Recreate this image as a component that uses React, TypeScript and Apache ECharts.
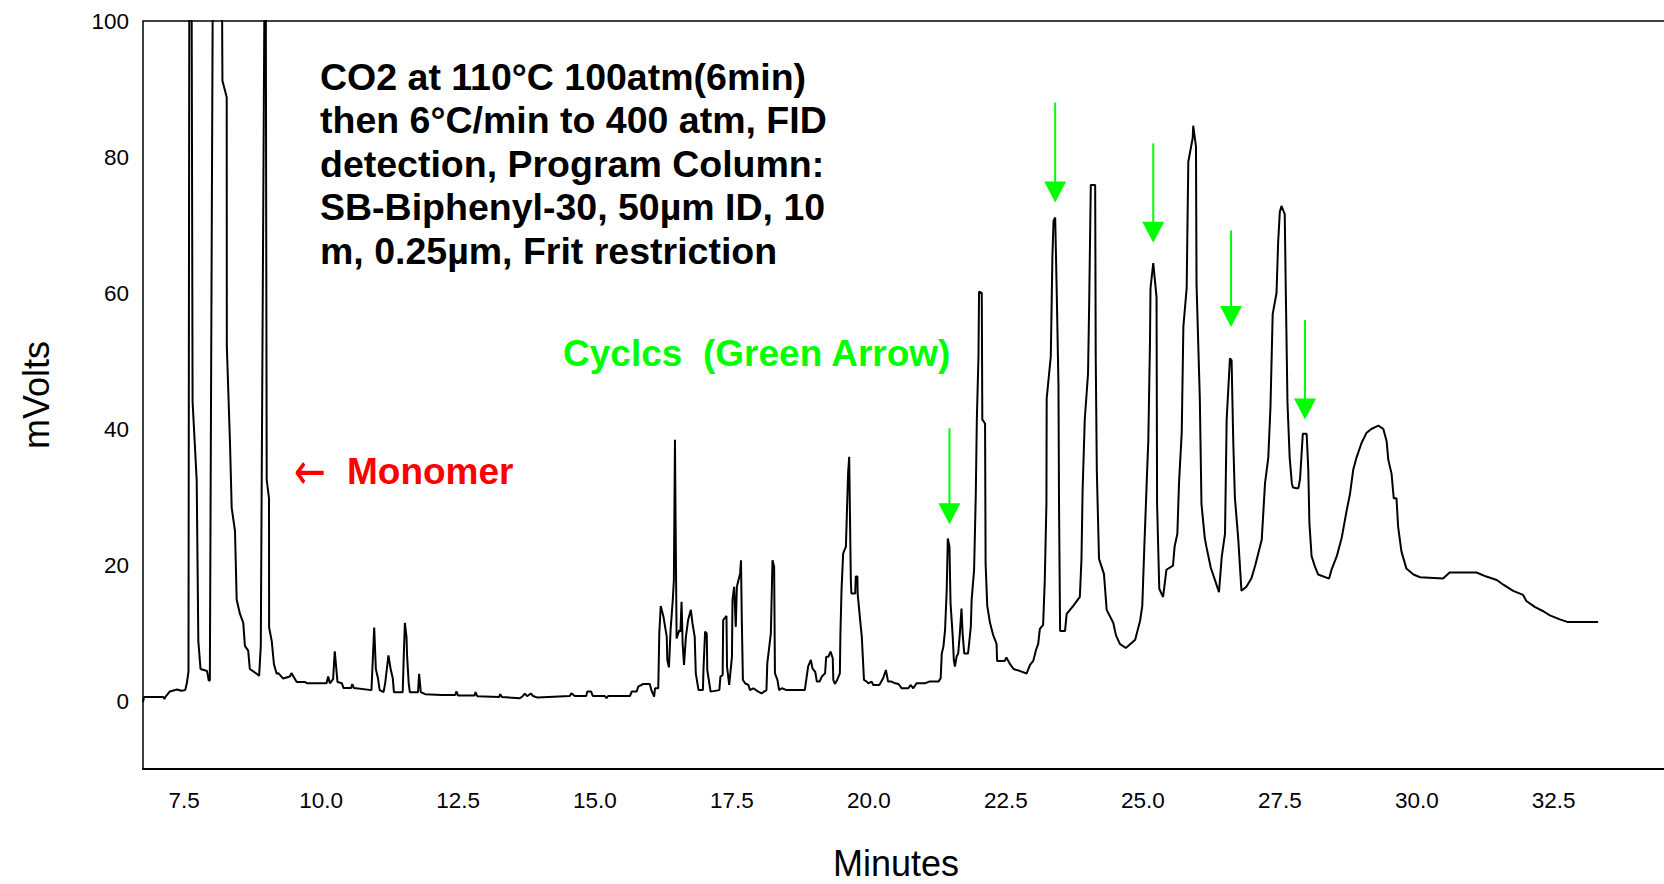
import React, { useEffect, useRef } from "react";
import * as echarts from "echarts";

// ---- Data ----
const retentionTime: number[] = [
  6.75, 6.77, 7.12, 7.14, 7.16, 7.24, 7.37, 7.45, 7.52, 7.55, 7.58, 7.61, 7.655, 7.73, 7.76, 7.8, 7.92, 7.95, 7.97,
  8.1, 8.2, 8.278, 8.28, 8.338, 8.369, 8.429, 8.46, 8.52, 8.58, 8.61, 8.67, 8.7, 8.825, 8.87, 8.9, 8.985, 9.008,
  9.05, 9.052, 9.1, 9.14, 9.19, 9.22, 9.31, 9.43, 9.46, 9.555, 9.71, 9.74, 10.1, 10.13, 10.16, 10.22, 10.25, 10.3,
  10.38, 10.41, 10.55, 10.57, 10.6, 10.92, 10.97, 11.0, 11.04, 11.07, 11.14, 11.17, 11.23, 11.27, 11.31, 11.33,
  11.49, 11.51, 11.53, 11.56, 11.57, 11.6, 11.62, 11.77, 11.79, 11.82, 11.9, 12.2, 12.45, 12.47, 12.5, 12.8, 12.82,
  12.85, 13.25, 13.27, 13.3, 13.63, 13.68, 13.72, 13.76, 13.83, 13.87, 13.95, 14.54, 14.57, 14.63, 14.84, 14.86,
  14.93, 14.96, 15.18, 15.21, 15.24, 15.64, 15.67, 15.76, 15.79, 15.88, 16.0, 16.03, 16.08, 16.095, 16.155, 16.174,
  16.2, 16.25, 16.28, 16.31, 16.32, 16.35, 16.38, 16.42, 16.44, 16.46, 16.47, 16.49, 16.54, 16.56, 16.58, 16.6,
  16.625, 16.66, 16.7, 16.75, 16.78, 16.82, 16.84, 16.89, 16.97, 16.98, 17.01, 17.04, 17.05, 17.11, 17.27, 17.29,
  17.33, 17.34, 17.4, 17.41, 17.45, 17.5, 17.51, 17.54, 17.57, 17.59, 17.65, 17.665, 17.68, 17.7, 17.74, 17.8,
  17.83, 17.89, 17.98, 18.04, 18.13, 18.145, 18.21, 18.24, 18.27, 18.285, 18.33, 18.36, 18.41, 18.5, 18.83, 18.89,
  18.94, 18.97, 19.02, 19.05, 19.1, 19.14, 19.2, 19.22, 19.26, 19.3, 19.34, 19.35, 19.38, 19.42, 19.47, 19.48,
  19.5, 19.53, 19.58, 19.62, 19.64, 19.67, 19.68, 19.75, 19.76, 19.79, 19.795, 19.84, 19.87, 19.91, 19.96, 19.99,
  20.05, 20.08, 20.19, 20.26, 20.31, 20.35, 20.41, 20.48, 20.54, 20.6, 20.72, 20.76, 20.81, 20.87, 20.93, 21.02,
  21.1, 21.27, 21.31, 21.33, 21.36, 21.39, 21.42, 21.44, 21.47, 21.49, 21.53, 21.55, 21.57, 21.6, 21.63, 21.66,
  21.69, 21.71, 21.74, 21.81, 21.86, 21.875, 21.92, 21.95, 21.97, 22.0, 22.01, 22.06, 22.07, 22.12, 22.13, 22.16,
  22.21, 22.27, 22.33, 22.34, 22.48, 22.51, 22.57, 22.64, 22.76, 22.88, 22.94, 23.0, 23.05, 23.09, 23.12, 23.18,
  23.21, 23.24, 23.245, 23.32, 23.35, 23.37, 23.4, 23.43, 23.46, 23.47, 23.49, 23.58, 23.61, 23.73, 23.85, 23.88,
  23.9, 23.94, 24.0, 24.02, 24.05, 24.13, 24.14, 24.16, 24.2, 24.29, 24.34, 24.46, 24.51, 24.58, 24.69, 24.86,
  24.95, 24.99, 25.03, 25.07, 25.1, 25.13, 25.14, 25.19, 25.22, 25.25, 25.26, 25.3, 25.37, 25.43, 25.55, 25.58,
  25.63, 25.66, 25.71, 25.74, 25.8, 25.83, 25.91, 25.92, 25.97, 25.98, 26.04, 26.07, 26.13, 26.16, 26.24, 26.32,
  26.39, 26.44, 26.5, 26.53, 26.59, 26.62, 26.65, 26.68, 26.74, 26.8, 26.89, 26.98, 27.05, 27.11, 27.17, 27.23,
  27.29, 27.33, 27.37, 27.44, 27.47, 27.5, 27.53, 27.59, 27.61, 27.64, 27.68, 27.72, 27.74, 27.81, 27.84, 27.87,
  27.92, 27.99, 28.02, 28.04, 28.08, 28.14, 28.2, 28.4, 28.44, 28.54, 28.63, 28.72, 28.78, 28.84, 28.9, 28.99,
  29.08, 29.17, 29.3, 29.39, 29.45, 29.48, 29.54, 29.58, 29.63, 29.66, 29.72, 29.81, 29.94, 30.06, 30.48, 30.6,
  31.09, 31.27, 31.46, 31.58, 31.76, 31.94, 32.0, 32.16, 32.31, 32.43, 32.61, 32.76, 33.31,
];

const signalMv: number[] = [
  -0.1, 0.6, 0.6, 0.3, 0.6, 1.4, 1.7, 1.5, 1.6, 2.6, 4.3, 200, 44, 32.5, 8.8, 4.7, 4.4, 3.0, 3.0,
  250, 91.2, 88.8, 52.2, 37.9, 28.4, 25.0, 14.9, 12.8, 11.5, 8.1, 7.4, 4.7, 4.0, 3.7, 8.1, 130, 32.5,
  29.8, 10.8, 8.8, 5.4, 4.0, 4.1, 3.3, 3.6, 4.1, 2.8, 2.8, 2.6, 2.6, 3.6, 2.6, 3.2, 7.3, 2.8,
  2.6, 1.9, 1.9, 2.5, 1.9, 1.6, 10.8, 4.7, 3.3, 1.6, 1.3, 2.6, 6.7, 4.7, 3.3, 1.3,
  1.3, 6.7, 11.5, 9.4, 6.7, 2.6, 1.3, 1.3, 4.0, 1.3, 1.0, 0.9, 0.9, 1.4, 0.8, 0.8, 1.3,
  0.7, 0.6, 1.0, 0.6, 0.4, 0.7, 1.1, 0.7, 1.1, 0.74, 0.5, 0.74, 1.13, 0.74, 0.74, 1.38,
  1.38, 0.74, 0.74, 0.4, 0.74, 0.74, 1.38, 1.38, 2.11, 2.5, 2.5, 1.6, 0.64, 1.87, 1.87, 9.95,
  13.97, 12.4, 10.9, 9.46, 6.03, 4.95, 10.45, 14.86, 17.8, 38.4, 27.6, 9.2, 10.45, 10.2, 14.6, 8.5,
  5.3, 9.46, 11.9, 13.4, 11.4, 9.46, 4.07, 1.6, 1.6, 4.56, 10.2, 9.95, 4.56, 1.38, 1.6, 3.58,
  3.83, 11.9, 12.5, 5.05, 2.36, 6.5, 14.86, 16.8, 10.9, 16.8, 18.8, 20.7, 11.9, 3.1, 2.6, 2.36,
  1.6, 1.87, 1.38, 1.13, 1.6, 5.54, 9.95, 20.7, 19.76, 4.07, 3.1, 1.6, 1.87, 1.6, 1.6, 5.05,
  6.03, 4.8, 4.3, 2.85, 2.85, 3.58, 4.07, 6.5, 6.5, 7.26, 6.28, 3.1, 2.5, 3.1, 4.07, 9.95,
  16.3, 21.7, 22.7, 33.5, 35.9, 17.8, 15.8, 15.8, 18.3, 18.3, 15.8, 11.9, 9.46, 3.1, 2.85, 2.6,
  2.85, 2.36, 2.36, 3.34, 4.56, 2.85, 2.85, 2.6, 2.5, 1.87, 1.87, 2.36, 1.87, 2.6, 2.6, 2.6,
  2.85, 2.85, 3.34, 7.0, 8.0, 10.45, 16.3, 23.9, 22.7, 14.4, 9.46, 6.03, 5.05, 6.5, 7.0, 9.95,
  13.6, 9.95, 7.0, 7.0, 10.9, 14.86, 19.3, 30.05, 41.4, 50.7, 60.2, 60.0, 41.4, 40.8, 20.2, 14.0,
  11.5, 9.65, 8.4, 5.9, 5.9, 6.4, 5.5, 4.7, 4.4, 4.05, 5.3, 5.9, 7.5, 8.4, 10.6, 11.2,
  17.7, 29.0, 44.5, 50.7, 65.6, 70.6, 71.1, 59.4, 46.4, 29.0, 10.3, 10.3, 12.8, 14.0, 15.3, 20.9,
  30.8, 41.4, 48.2, 58.2, 75.9, 75.9, 50.7, 33.9, 20.9, 18.7, 13.4, 11.5, 9.65, 8.4, 7.8, 9.0,
  11.8, 14.0, 23.3, 32.0, 38.3, 52.6, 60.7, 64.4, 61.9, 59.4, 29.0, 16.5, 15.3, 19.3, 19.9, 22.7,
  24.6, 32.0, 39.5, 55.1, 60.7, 79.3, 82.8, 84.6, 81.5, 61.3, 44.5, 29.0, 24.0, 22.7, 19.6, 17.7,
  16.0, 21.2, 24.6, 41.4, 50.4, 50.1, 38.3, 29.9, 24.0, 16.2, 16.8, 18.0, 19.9, 21.8, 23.7, 32.0,
  35.8, 43.3, 56.9, 60.0, 67.5, 71.9, 72.8, 71.6, 60.0, 43.9, 35.8, 32.0, 31.4, 31.3, 31.3, 32.7,
  39.3, 39.3, 34.0, 26.2, 21.3, 19.8, 18.6, 18.0, 19.2, 21.3, 24.0, 28.0, 30.4, 34.0, 35.8, 37.9,
  39.4, 40.0, 40.5, 40.0, 38.2, 35.5, 33.4, 29.8, 29.8, 25.6, 22.0, 19.5, 18.6, 18.2, 18.0, 18.9,
  18.9, 18.3, 17.8, 17.1, 16.2, 15.6, 14.7, 13.8, 13.2, 12.6, 12.0, 11.6, 11.6,
];

// short lead-in of the trace drawn just left of the y axis
const leadInTime: number[] = [6.54, 6.75];
const leadInMv: number[] = [0.15, -0.1];

// green "cyclics" arrows: x position, top of shaft, tip (all in data units)
const arrowTime: number[] = [21.47, 23.4, 25.19, 26.61, 27.96];
const arrowTopMv: number[] = [40.1, 88.0, 82.0, 69.2, 56.0];
const arrowTipMv: number[] = [26.0, 73.3, 67.4, 55.0, 41.4];

const xTickLabels: number[] = [7.5, 10.0, 12.5, 15.0, 17.5, 20.0, 22.5, 25.0, 27.5, 30.0, 32.5];
const yTickLabels: number[] = [0, 20, 40, 60, 80, 100];

const annotationLines: string[] = [
  "CO2 at 110°C 100atm(6min)",
  "then 6°C/min to 400 atm, FID",
  "detection, Program Column:",
  "SB-Biphenyl-30, 50µm ID, 10",
  "m, 0.25µm, Frit restriction",
];

const FONT = '"Liberation Sans", Arial, Helvetica, sans-serif';
const GREEN = "#00ff00";
const RED = "#ff0000";

export default function App() {
  const ref = useRef<HTMLDivElement>(null);

  useEffect(() => {
    if (!ref.current) return;
    const chart = echarts.init(ref.current, undefined, { renderer: "svg" });

    const trace = retentionTime.map((t, i) => [t, signalMv[i]]);
    const leadIn = leadInTime.map((t, i) => [t, leadInMv[i]]);
    const arrows = arrowTime.map((t, i) => [t, arrowTopMv[i], arrowTipMv[i]]);

    const isTick = (v: number, list: number[]) => list.some((t) => Math.abs(t - v) < 1e-6);

    const option: any = {
      animation: false,
      backgroundColor: "#fff",
      grid: {
        left: 143,
        top: 21,
        right: -13,
        bottom: 115,
        containLabel: false,
        outerBoundsMode: "none",
        show: true,
        borderColor: "#000",
        borderWidth: 1.5,
        backgroundColor: "transparent",
      },
      xAxis: {
        type: "value",
        min: 6.75,
        max: 34.75,
        interval: 0.25,
        axisLine: { show: true, onZero: false, lineStyle: { color: "#000", width: 2 } },
        axisTick: { show: false },
        splitLine: { show: false },
        axisLabel: {
          show: true,
          margin: 20,
          color: "#000",
          fontSize: 22.5,
          fontFamily: FONT,
          formatter: (v: number) => (isTick(v, xTickLabels) ? v.toFixed(1) : ""),
        },
      },
      yAxis: {
        type: "value",
        min: -10,
        max: 100,
        interval: 10,
        axisLine: { show: false },
        axisTick: { show: false },
        splitLine: { show: false },
        axisLabel: {
          show: true,
          margin: 14,
          color: "#000",
          fontSize: 22.5,
          fontFamily: FONT,
          formatter: (v: number) => (isTick(v, yTickLabels) ? String(Math.round(v)) : ""),
        },
      },
      series: [
        {
          type: "line",
          data: trace,
          showSymbol: false,
          symbol: "none",
          clip: true,
          lineStyle: { color: "#000", width: 2 },
          z: 3,
        },
        {
          type: "line",
          data: leadIn,
          showSymbol: false,
          symbol: "none",
          clip: false,
          lineStyle: { color: "#000", width: 1.5 },
          z: 3,
        },
        {
          type: "custom",
          data: arrows,
          encode: { x: 0, y: [1, 2] },
          clip: false,
          z: 5,
          renderItem: (_params: any, api: any) => {
            const x = api.value(0);
            const top = api.coord([x, api.value(1)]);
            const tip = api.coord([x, api.value(2)]);
            const headH = 21;
            const headW = 22;
            return {
              type: "group",
              children: [
                {
                  type: "line",
                  shape: { x1: top[0], y1: top[1], x2: tip[0], y2: tip[1] - headH + 2 },
                  style: { stroke: GREEN, lineWidth: 2 },
                },
                {
                  type: "polygon",
                  shape: {
                    points: [
                      [tip[0] - headW / 2, tip[1] - headH],
                      [tip[0] + headW / 2, tip[1] - headH],
                      [tip[0], tip[1]],
                    ],
                  },
                  style: { fill: GREEN },
                },
              ],
            };
          },
        },
      ],
      graphic: [
        {
          type: "text",
          x: 320,
          y: 55,
          z: 10,
          style: {
            text: annotationLines.join("\n"),
            fill: "#000",
            font: `bold 37.5px ${FONT}`,
            lineHeight: 43.5,
            textAlign: "left",
            textVerticalAlign: "top",
            align: "left",
            verticalAlign: "top",
          },
        },
        {
          type: "text",
          x: 563,
          y: 353,
          z: 10,
          style: {
            text: "Cyclcs",
            fill: GREEN,
            font: `bold 37px ${FONT}`,
            textAlign: "left",
            textVerticalAlign: "middle",
            align: "left",
            verticalAlign: "middle",
          },
        },
        {
          type: "text",
          x: 703,
          y: 353,
          z: 10,
          style: {
            text: "(Green Arrow)",
            fill: GREEN,
            font: `bold 37px ${FONT}`,
            textAlign: "left",
            textVerticalAlign: "middle",
            align: "left",
            verticalAlign: "middle",
          },
        },
        {
          type: "text",
          x: 310,
          y: 471,
          z: 10,
          scaleY: 1.35,
          style: {
            text: "←",
            fill: RED,
            font: `normal 38px "DejaVu Sans", ${FONT}`,
            textAlign: "center",
            textVerticalAlign: "middle",
            align: "center",
            verticalAlign: "middle",
          },
        },
        {
          type: "text",
          x: 347,
          y: 471,
          z: 10,
          style: {
            text: "Monomer",
            fill: RED,
            font: `bold 37px ${FONT}`,
            textAlign: "left",
            textVerticalAlign: "middle",
            align: "left",
            verticalAlign: "middle",
          },
        },
        {
          type: "text",
          x: 36,
          y: 395,
          rotation: Math.PI / 2,
          z: 10,
          style: {
            text: "mVolts",
            fill: "#000",
            font: `normal 36px ${FONT}`,
            lineHeight: 36,
            textAlign: "center",
            textVerticalAlign: "middle",
            align: "center",
            verticalAlign: "middle",
          },
        },
        {
          type: "text",
          x: 896,
          y: 863,
          z: 10,
          style: {
            text: "Minutes",
            fill: "#000",
            font: `normal 36px ${FONT}`,
            lineHeight: 36,
            textAlign: "center",
            textVerticalAlign: "middle",
            align: "center",
            verticalAlign: "middle",
          },
        },
      ],
    };

    chart.setOption(option);
    return () => {
      chart.dispose();
    };
  }, []);

  return (
    <div
      ref={ref}
      style={{ position: "fixed", left: 0, top: 0, width: 1664, height: 884, background: "#fff" }}
    />
  );
}
